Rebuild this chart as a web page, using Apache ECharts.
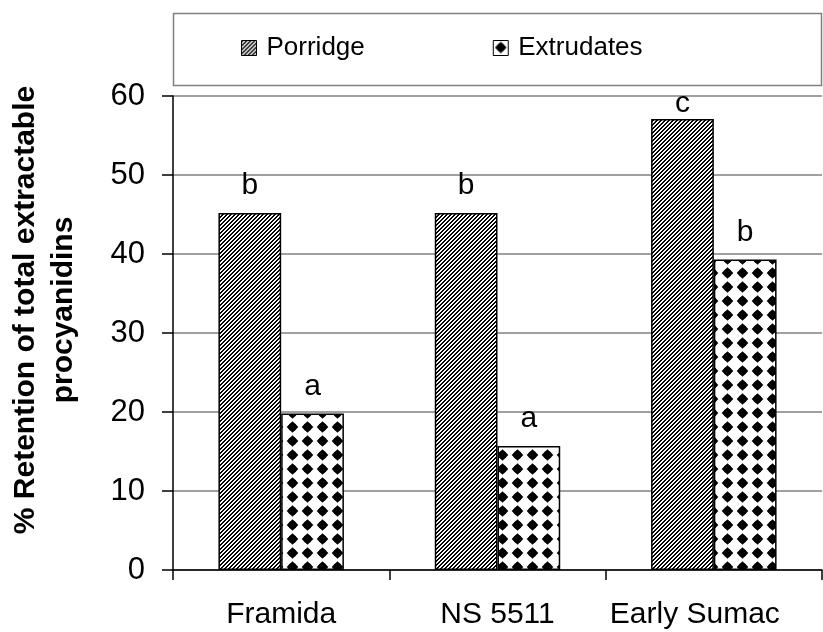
<!DOCTYPE html>
<html>
<head>
<meta charset="utf-8">
<script src="https://cdn.jsdelivr.net/npm/echarts@6/dist/echarts.min.js"></script>
<style>
  html, body { margin: 0; padding: 0; background: #fff; }
  #chart { width: 823px; height: 632px; }
</style>
</head>
<body>
<div id="chart"></div>
<script>
// Retention of procyanidins after processing, by sorghum cultivar
const cultivars = ['Framida', 'NS 5511', 'Early Sumac'];
const porridge = [45.2, 45.2, 57.1];
const extrudates = [19.8, 15.7, 39.3];
// significance letters shown above each bar
const porridgeLetters = ['b', 'b', 'c'];
const extrudateLetters = ['a', 'a', 'b'];
const yMin = 0, yMax = 60, yStep = 10;

const FONT = '"Liberation Sans", Arial, Helvetica, sans-serif';

// dense diagonal hatch (///)
function hatchTile() {
  const n = 8;
  const c = document.createElement('canvas');
  c.width = n; c.height = n;
  const g = c.getContext('2d');
  const img = g.createImageData(n, n);
  for (let y = 0; y < n; y++) {
    for (let x = 0; x < n; x++) {
      const k = (y * n + x) * 4;
      const v = ((x + y) % 4) < 2 ? 0 : 255;
      img.data[k] = img.data[k + 1] = img.data[k + 2] = v;
      img.data[k + 3] = 255;
    }
  }
  g.putImageData(img, 0, 0);
  return c;
}

// white ground with a grid of black rounded diamonds
function dotTile() {
  const w = 15, h = 14;
  const c = document.createElement('canvas');
  c.width = w; c.height = h;
  const g = c.getContext('2d');
  g.fillStyle = '#fff';
  g.fillRect(0, 0, w, h);
  g.fillStyle = '#000';
  const cx = w / 2, cy = h / 2;
  g.beginPath();
  g.moveTo(cx, cy - 5.8);
  g.lineTo(cx + 5.8, cy);
  g.lineTo(cx, cy + 5.8);
  g.lineTo(cx - 5.8, cy);
  g.closePath();
  g.fill();
  g.beginPath();
  g.arc(cx, cy, 4.1, 0, Math.PI * 2);
  g.fill();
  return c;
}

const hatchFill = { image: hatchTile(), repeat: 'repeat' };
const dotFill = { image: dotTile(), repeat: 'repeat' };

const chart = echarts.init(document.getElementById('chart'), null, { renderer: 'canvas' });

const letterLabel = (letters) => ({
  show: true,
  position: 'top',
  distance: 12,
  fontFamily: FONT,
  fontSize: 30,
  color: '#000',
  formatter: (p) => letters[p.dataIndex]
});

// the tallest bar's letter sits close to its top so it stays under the plot top
const tallest = Math.max(...porridge);
const porridgeData = porridge.map((v) =>
  v === tallest ? { value: v, label: { distance: 0 } } : v
);

// the last category name is nudged left so it stays inside the canvas
const categoryData = cultivars.map((name, i) =>
  i === cultivars.length - 1 ? { value: name, textStyle: { padding: [0, 38, 0, 0] } } : name
);

chart.setOption({
  backgroundColor: '#fff',
  animation: false,
  textStyle: { fontFamily: FONT },
  grid: { left: 173, right: 1, top: 96, bottom: 62, containLabel: false },
  graphic: [
    {
      type: 'rect',
      shape: { x: 173.5, y: 13.5, width: 648, height: 72 },
      style: { fill: 'none', stroke: '#808080', lineWidth: 1.5 },
      silent: true,
      z: 0
    },
    {
      type: 'text',
      x: 45,
      y: 310,
      rotation: Math.PI / 2,
      style: {
        text: '% Retention of total extractable\nprocyanidins',
        font: 'bold 30px ' + FONT,
        lineHeight: 38,
        fill: '#000',
        textAlign: 'center',
        textVerticalAlign: 'middle'
      },
      silent: true
    }
  ],
  legend: {
    left: 236,
    top: 30,
    itemWidth: 15,
    itemHeight: 15,
    itemGap: 128,
    icon: 'rect',
    textStyle: { fontFamily: FONT, fontSize: 26, color: '#000', padding: [0, 0, 0, 5] },
    itemStyle: { borderColor: '#000', borderWidth: 1 },
    data: ['Porridge', 'Extrudates']
  },
  xAxis: {
    type: 'category',
    data: categoryData,
    axisLine: { show: true, lineStyle: { color: '#000', width: 1.5 } },
    axisTick: { show: true, interval: 0, length: 10, lineStyle: { color: '#000', width: 1.5 } },
    axisLabel: { interval: 0, hideOverlap: false, fontFamily: FONT, fontSize: 30, color: '#000', margin: 30 },
    splitLine: { show: false }
  },
  yAxis: {
    type: 'value',
    min: yMin,
    max: yMax,
    interval: yStep,
    axisLine: { show: true, lineStyle: { color: '#000', width: 1.5 } },
    axisTick: { show: true, length: 11, lineStyle: { color: '#000', width: 1.5 } },
    axisLabel: { fontFamily: FONT, fontSize: 31, color: '#000', margin: 28 },
    splitLine: { show: true, lineStyle: { color: '#808080', width: 1.5 } }
  },
  series: [
    {
      name: 'Porridge',
      type: 'bar',
      data: porridgeData,
      barGap: '0%',
      barCategoryGap: '42%',
      itemStyle: { color: hatchFill, borderColor: '#000', borderWidth: 1.5 },
      label: letterLabel(porridgeLetters)
    },
    {
      name: 'Extrudates',
      type: 'bar',
      data: extrudates,
      itemStyle: { color: dotFill, borderColor: '#000', borderWidth: 1.5 },
      label: letterLabel(extrudateLetters)
    }
  ]
});
</script>
</body>
</html>
